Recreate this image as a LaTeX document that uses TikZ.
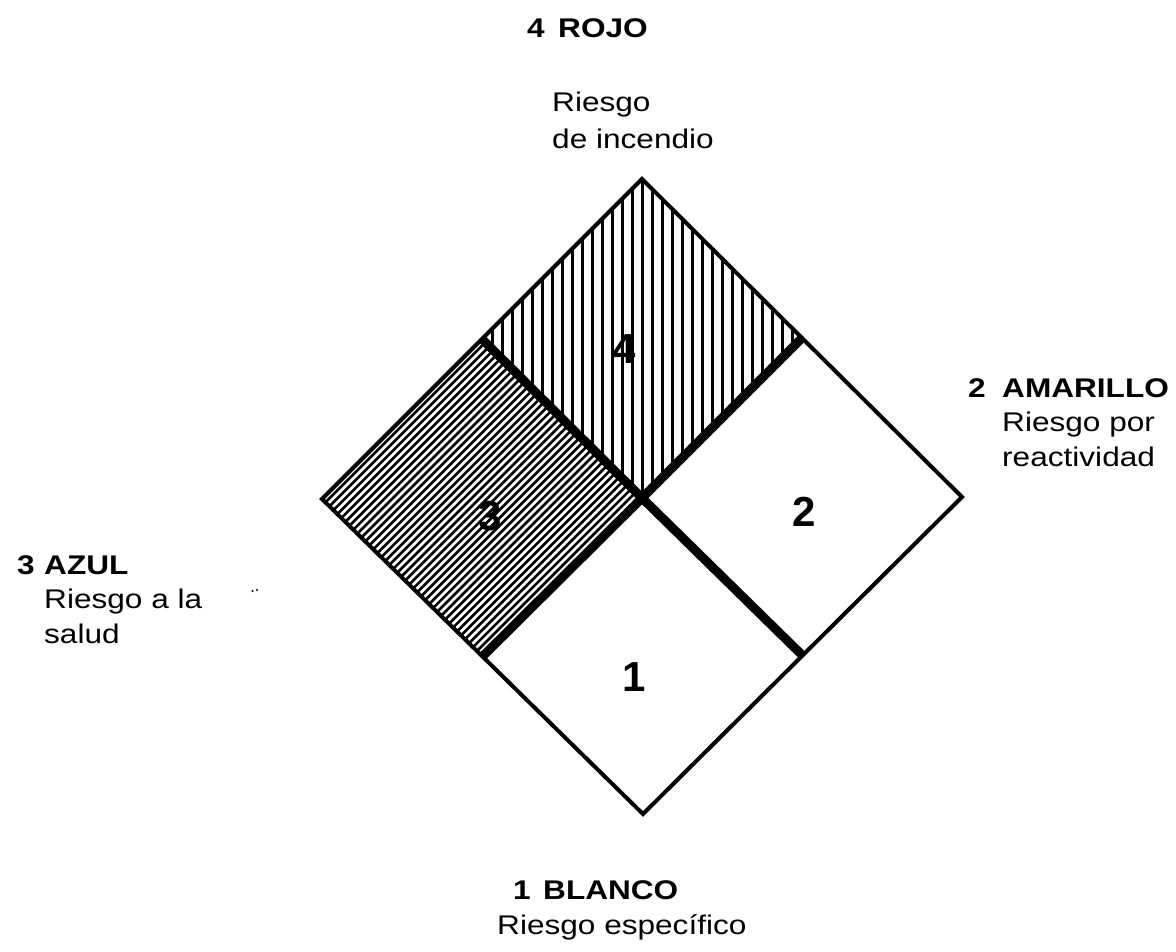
\documentclass[tikz,border=0pt]{standalone}
\usepackage{fontspec}
\usetikzlibrary{calc}
\setmainfont{Liberation Sans}[FakeStretch=1.17]
\newfontfamily\numfont{Liberation Sans}
\begin{document}
\begin{tikzpicture}[x=1pt,y=-1pt,
  lbl/.style={anchor=base west, inner sep=0pt, font=\fontsize{27}{30}\selectfont},
  lblb/.style={lbl, font=\fontsize{27}{30}\selectfont\bfseries},
  numb/.style={inner sep=0pt, font=\numfont\bfseries\fontsize{42}{46}\selectfont},
  outline/.style={line width=4pt, line join=miter},
  divider/.style={line width=9pt, line cap=butt},
  vhatch/.style={line width=3pt},
  dhatch/.style={line width=2.6pt}]
\useasboundingbox (0,0) rectangle (1176,951);
% diamond geometry
\coordinate (T) at (642,179);
\coordinate (R) at (962,497);
\coordinate (B) at (643,814);
\coordinate (L) at (322,499);
\coordinate (C) at (642,498);
\coordinate (mTL) at ($(T)!0.5!(L)$);
\coordinate (mTR) at ($(T)!0.5!(R)$);
\coordinate (mBR) at ($(B)!0.5!(R)$);
\coordinate (mBL) at ($(B)!0.5!(L)$);
% numbers under hatching
\node[numb] (n4) at (624,349) {4};
\node[numb] (n3) at (490,516) {3};
% top square: vertical hatching
\begin{scope}
  \clip (T) -- (mTR) -- (C) -- (mTL) -- cycle;
  \foreach \x in {482,492,...,812} {
    \draw[vhatch] (\x,160) -- (\x,520);
  }
\end{scope}
% left square: diagonal hatching
\begin{scope}
  \clip (mTL) -- (C) -- (mBL) -- (L) -- cycle;
  \foreach \c in {812,819.9,...,1150} {
    \draw[dhatch] (\c-700,700) -- (\c-300,300);
  }
\end{scope}
% outline and dividers
\draw[outline] (T) -- (R) -- (B) -- (L) -- cycle;
\draw[divider] (mTL) -- (C) -- (mBR);
\draw[divider] (mTR) -- (C) -- (mBL);
% numbers in white squares
\node[numb] (n2) at (804,512) {2};
\node[numb] (n1) at (634,677) {1};
% labels
\node[lblb] (t4) at (527,37) {4};
\node[lblb] (tROJO) at (558,37) {ROJO};
\node[lbl] (tR1) at (552,111) {Riesgo};
\node[lbl] (tR2) at (552,148) {de incendio};
\node[lblb] (t2) at (968,397) {2};
\node[lblb] (tAM) at (1002,397) {AMARILLO};
\node[lbl] (tA1) at (1002,431) {Riesgo por};
\node[lbl] (tA2) at (1002,466) {reactividad};
\node[lblb] (t3) at (17,574) {3};
\node[lblb] (tAZ) at (44,574) {AZUL};
\node[lbl] (tZ1) at (44,608) {Riesgo a la};
\node[lbl] (tZ2) at (44,643) {salud};
\node[lblb] (t1) at (513,899) {1};
\node[lblb] (tBL) at (543,899) {BLANCO};
\node[lbl] (tB1) at (497,934) {Riesgo específico};
% stray marks
\fill (252.5,591) circle (1.1pt);
\fill (257,590) circle (1.1pt);
\end{tikzpicture}
\end{document}
